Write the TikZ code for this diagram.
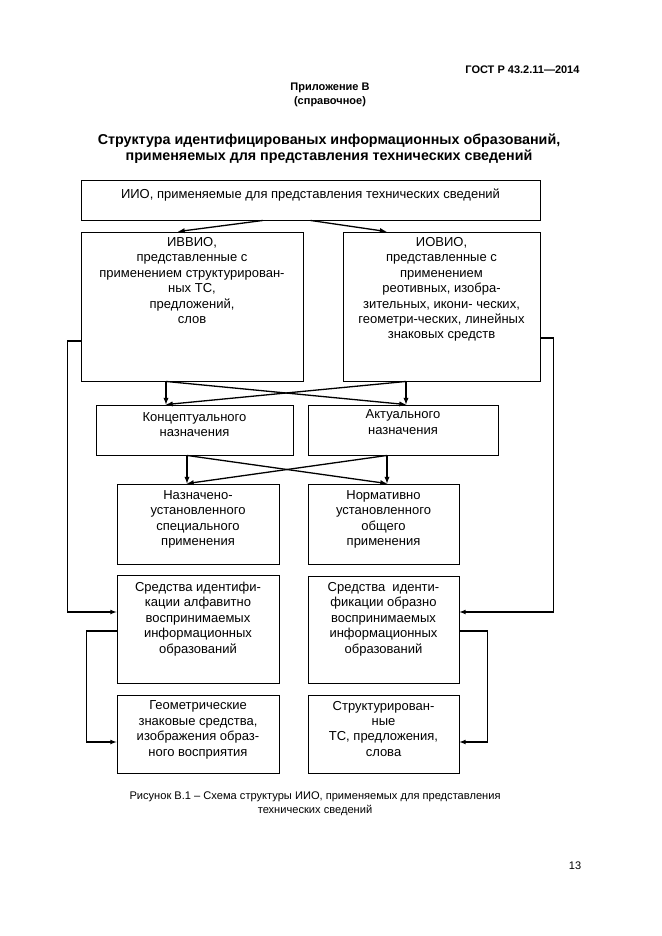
\documentclass[tikz,border=0pt]{standalone}
\usepackage{fontspec}
\setmainfont{Liberation Sans}
\usetikzlibrary{arrows}
\newcommand{\boxtxt}[4][6pt]{\parbox[c][#3][t]{#2}{\centering\vspace*{#1}#4}}

\begin{document}
\begin{tikzpicture}[x=1pt,y=-1pt,
    box/.style={draw,line width=0.9pt,inner sep=0pt,font=\fontsize{13}{15.4}\selectfont},
    arr/.style={line width=1.3pt,-latex},
    link/.style={line width=1.15pt,-latex}]
    \useasboundingbox (0,0) rectangle (661,936);

    % page head
    \node[anchor=east,font=\bfseries\fontsize{11}{13}\selectfont] (gost) at (583,70) {ГОСТ Р 43.2.11—2014};
    \node[align=center,font=\bfseries\fontsize{11}{14}\selectfont] (app) at (330,95) {Приложение В\\(справочное)};
    \node[align=center,font=\bfseries\fontsize{14.3}{16}\selectfont] (title) at (329,149)
        {Структура идентифицированых информационных образований,\\применяемых для представления технических сведений};

    % boxes
    \node[box] (top) at (310.5,200) {\boxtxt[9pt]{459pt}{40pt}{ИИО, применяемые для представления технических сведений}};
    \node[box] (ivvio) at (192,306.5) {\boxtxt[5.5pt]{222pt}{149pt}{ИВВИО,\\представленные с\\применением структурирован-\\ных ТС,\\предложений,\\слов}};
    \node[box] (iovio) at (441.5,306.5) {\boxtxt[5.5pt]{197pt}{149pt}{ИОВИО,\\представленные с\\применением\\реотивных, изобра-\\зительных, икони- ческих,\\геометри-ческих, линейных\\знаковых средств}};
    \node[box] (konc) at (194.5,430) {\boxtxt[7.5pt]{197pt}{50pt}{Концептуального\\назначения}};
    \node[box] (aktual) at (403,430) {\boxtxt[5pt]{190pt}{50pt}{Актуального\\назначения}};
    \node[box] (naznach) at (198,524) {\boxtxt[6.5pt]{162pt}{80pt}{Назначено-\\установленного\\специального\\применения}};
    \node[box] (normat) at (383.5,524) {\boxtxt[6.5pt]{151pt}{80pt}{Нормативно\\установленного\\общего\\применения}};
    \node[box] (sralf) at (198,629) {\boxtxt[7pt]{162pt}{108pt}{Средства идентифи-\\кации алфавитно\\воспринимаемых\\информационных\\образований}};
    \node[box] (srobr) at (383.5,629.5) {\boxtxt[6.5pt]{151pt}{107pt}{Средства~ иденти-\\фикации образно\\воспринимаемых\\информационных\\образований}};
    \node[box] (geom) at (198,734) {\boxtxt[6pt]{162pt}{78pt}{Геометрические\\знаковые средства,\\изображения образ-\\ного восприятия}};
    \node[box] (struct) at (383.5,734) {\boxtxt[6pt]{151pt}{78pt}{Структурирован-\\ные\\ТС, предложения,\\слова}};

    % arrows
    \draw[arr] ([xshift=-47.5pt]top.south) -- ([xshift=-14pt]ivvio.north);
    \draw[arr] (top.south) -- ([xshift=-55pt]iovio.north);

    \coordinate (a) at ([xshift=-26pt]ivvio.south);
    \coordinate (b) at ([xshift=-35.5pt]iovio.south);
    \draw[arr] (a) -- (a |- konc.north);
    \draw[arr] (a) -- (b |- aktual.north);
    \draw[arr] (b) -- (b |- aktual.north);
    \draw[arr] (b) -- (a |- konc.north);

    \coordinate (c) at ([xshift=-7.5pt]konc.south);
    \coordinate (d) at ([xshift=-16pt]aktual.south);
    \draw[arr] (c) -- (c |- naznach.north);
    \draw[arr] (c) -- (d |- normat.north);
    \draw[arr] (d) -- (d |- normat.north);
    \draw[arr] (d) -- (c |- naznach.north);

    % side links
    \draw[link] ([yshift=-34.5pt]ivvio.west) -- ++(-13,0) |- ([yshift=17pt]sralf.west);
    \draw[link] ([yshift=-31.5pt]iovio.east) -- ++(13,0) |- ([yshift=17.5pt]srobr.east);
    \draw[link] ([yshift=-2pt]sralf.west) -- ++(-30,0) |- ([yshift=-8pt]geom.west);
    \draw[link] ([yshift=-1.5pt]srobr.east) -- ++(28,0) |- ([yshift=-8pt]struct.east);

    % caption and page number
    \node[align=center,font=\fontsize{11.1}{14}\selectfont] (capt) at (315,804)
        {Рисунок В.1 – Схема структуры ИИО, применяемых для представления\\технических сведений};
    \node[font=\fontsize{11}{13}\selectfont] (page) at (575,866) {13};
\end{tikzpicture}
\end{document}
